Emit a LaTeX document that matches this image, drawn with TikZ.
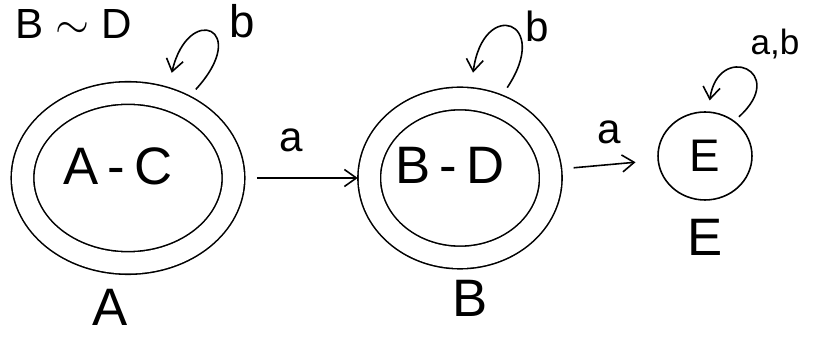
\documentclass[tikz,border=0pt]{standalone}
\usepackage{fontspec}
\setmainfont{Liberation Sans}
\usetikzlibrary{arrows.meta, positioning, shapes.geometric}
\tikzset{
  >={Straight Barb[length=2.4mm,width=3.4mm]},
  state/.style={draw, ellipse, inner sep=0pt, font=\fontsize{30}{30}\selectfont},
  accept/.style={state, double, double distance=0.42cm, outer sep=0.23cm},
  trans/.style={->, shorten <=0.24cm},
  loopy/.style={->, shorten <=0.18cm, shorten >=0.3cm},
  sym/.style={font=\fontsize{#1}{#1}\selectfont, inner sep=0pt},
  sym/.default=24,
  tag/.style={font=\fontsize{30}{30}\selectfont, inner sep=0pt}
}
\begin{document}
\begin{tikzpicture}[x=0.02cm, y=-0.02cm, line width=0.9pt]
  \useasboundingbox (0,0) rectangle (822,337);
  % states of the reduced machine
  \node[accept, minimum width=4.22cm, minimum height=3.4cm] (AC) at (128,178) {A\,-\,C\hspace{0.4cm}\rule[-0.48cm]{0pt}{0pt}};
  \node[accept, minimum width=3.52cm, minimum height=3.18cm] (BD) at (460,178) {B\,-\,D\hspace{0.4cm}\rule[-0.52cm]{0pt}{0pt}};
  \node[state, minimum width=1.88cm, minimum height=1.76cm, font=\fontsize{26}{26}\selectfont] (E) at (705,156) {E};
  % new names
  \node[tag, below=0.28cm of AC, xshift=-0.36cm] (tagA) {A};
  \node[tag, below=0.2cm of BD, xshift=0.2cm] (tagB) {B};
  \node[tag, below=0.36cm of E] (tagE) {E};
  \node[sym=24, inner sep=2pt] (equiv) at (74,24) {B $\sim$ D};
  % transitions
  \draw[trans] (AC) -- node[sym, above=0.5cm, xshift=-0.2cm] (la1) {a} (BD);
  \draw[trans, shorten >=0.44cm] (BD) -- node[sym, above=0.4cm] (la2) {a} (E);
  \draw[loopy] (AC.53) .. controls +(62,-68) and +(20,-85) .. (AC.66);
  \draw[loopy] (BD.63) .. controls +(50,-75) and +(12,-90) .. (BD.83);
  \draw[loopy, shorten <=0.12cm, shorten >=0.22cm] (E.50) .. controls +(55,-50) and +(10,-70) .. (E.86);
  \node[sym=26] (lb1) at (242,21) {b};
  \node[sym=24] (lb2) at (537,26) {b};
  \node[sym=20] (lb3) at (775,44) {a,b};
\end{tikzpicture}
\end{document}
